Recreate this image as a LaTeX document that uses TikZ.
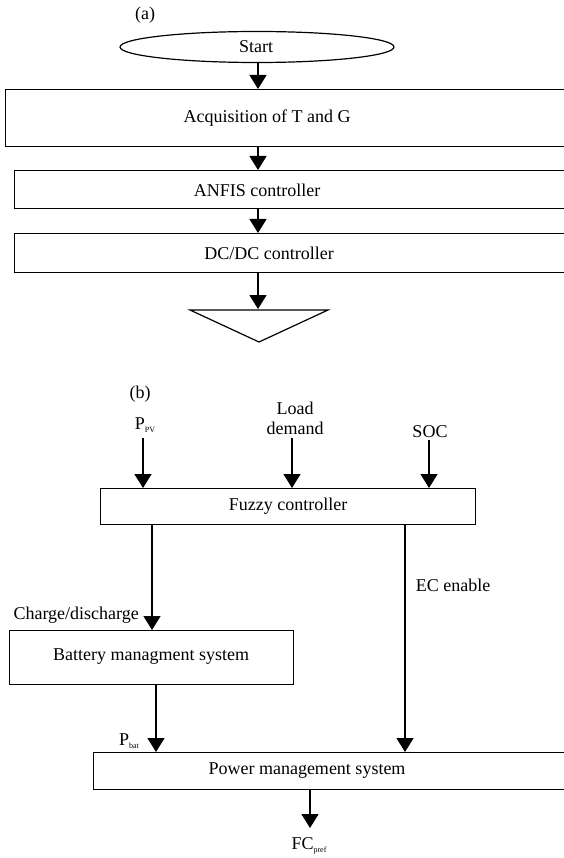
\documentclass[tikz,border=0pt]{standalone}
\usepackage{fontspec}
\setmainfont{Liberation Serif}
\usetikzlibrary{arrows.meta,shapes.geometric}
\newcommand{\smallsub}[1]{{\fontsize{8}{9}\selectfont\raisebox{-2.5pt}{#1}}}
\begin{document}
\begin{tikzpicture}[x=1pt,y=-1pt,
  box/.style={draw,line width=1.4pt,inner sep=0pt,anchor=north west},
  txt/.style={font=\fontsize{18}{20}\selectfont,inner sep=0pt},
  arr/.style={line width=1.5pt,-{Triangle[width=17pt,length=14pt]}},
  ln/.style={line width=1.5pt}]
\useasboundingbox (0,0) rectangle (563,858);
% ---- (a)
\node[txt] (la) at (145,15) {(a)};
\node[draw,ellipse,line width=1.2pt,minimum width=274pt,minimum height=31pt,inner sep=0pt] (start) at (257,47) {};
\node[txt] (startt) at (256,47) {Start};
\node[box,minimum width=562pt,minimum height=57pt] (acq) at (5,89) {};
\node[txt] (acqt) at (267,118) {Acquisition of T and G};
\node[box,minimum width=553pt,minimum height=38pt] (anfis) at (14,170) {};
\node[txt] (anfist) at (257,190) {ANFIS controller};
\node[box,minimum width=553pt,minimum height=39pt] (dcdc) at (14,233) {};
\node[txt] (dcdct) at (269,253) {DC/DC controller};
\coordinate (tri) at (258,309);
\draw[line width=1.2pt] (190,310) -- (259,342) -- (328,310) -- cycle;
\draw[arr] (258,62) -- (258,89);
\draw[arr] (258,146) -- (258,170);
\draw[arr] (258,208) -- (258,233);
\draw[arr] (258,272) -- (tri);
% ---- (b)
\node[txt] (lb) at (140,394) {(b)};
\node[txt] (ppv) at (145,425) {P\smallsub{PV}};
\node[txt,align=center] (load) at (295,418) {Load\\demand};
\node[txt] (soc) at (430,432) {SOC};
\node[box,minimum width=375pt,minimum height=36pt] (fuzzy) at (100,488) {};
\node[txt] (fuzzyt) at (288,506) {Fuzzy controller};
\draw[arr] (143,438) -- (143,488);
\draw[arr] (292,438) -- (292,488);
\draw[arr] (429,440) -- (429,488);
\node[box,minimum width=284pt,minimum height=54pt] (bms) at (9,630) {};
\node[txt] (bmst) at (151,657) {Battery managment system};
\node[txt,anchor=east] (cd) at (139,615) {Charge/discharge};
\node[txt] (ec) at (453,585) {EC enable};
\node[box,minimum width=472pt,minimum height=37pt] (pms) at (93,752) {};
\node[txt] (pmst) at (307,771) {Power management system};
\node[txt] (pbat) at (129,741) {P\smallsub{bat}};
\node[txt] (fc) at (309,846) {FC\smallsub{pref}};
\draw[arr] (152,524) -- (152,630);
\draw[arr] (405,524) -- (405,752);
\draw[arr] (156,684) -- (156,752);
\draw[arr] (310,789) -- (310,828);
\end{tikzpicture}
\end{document}
